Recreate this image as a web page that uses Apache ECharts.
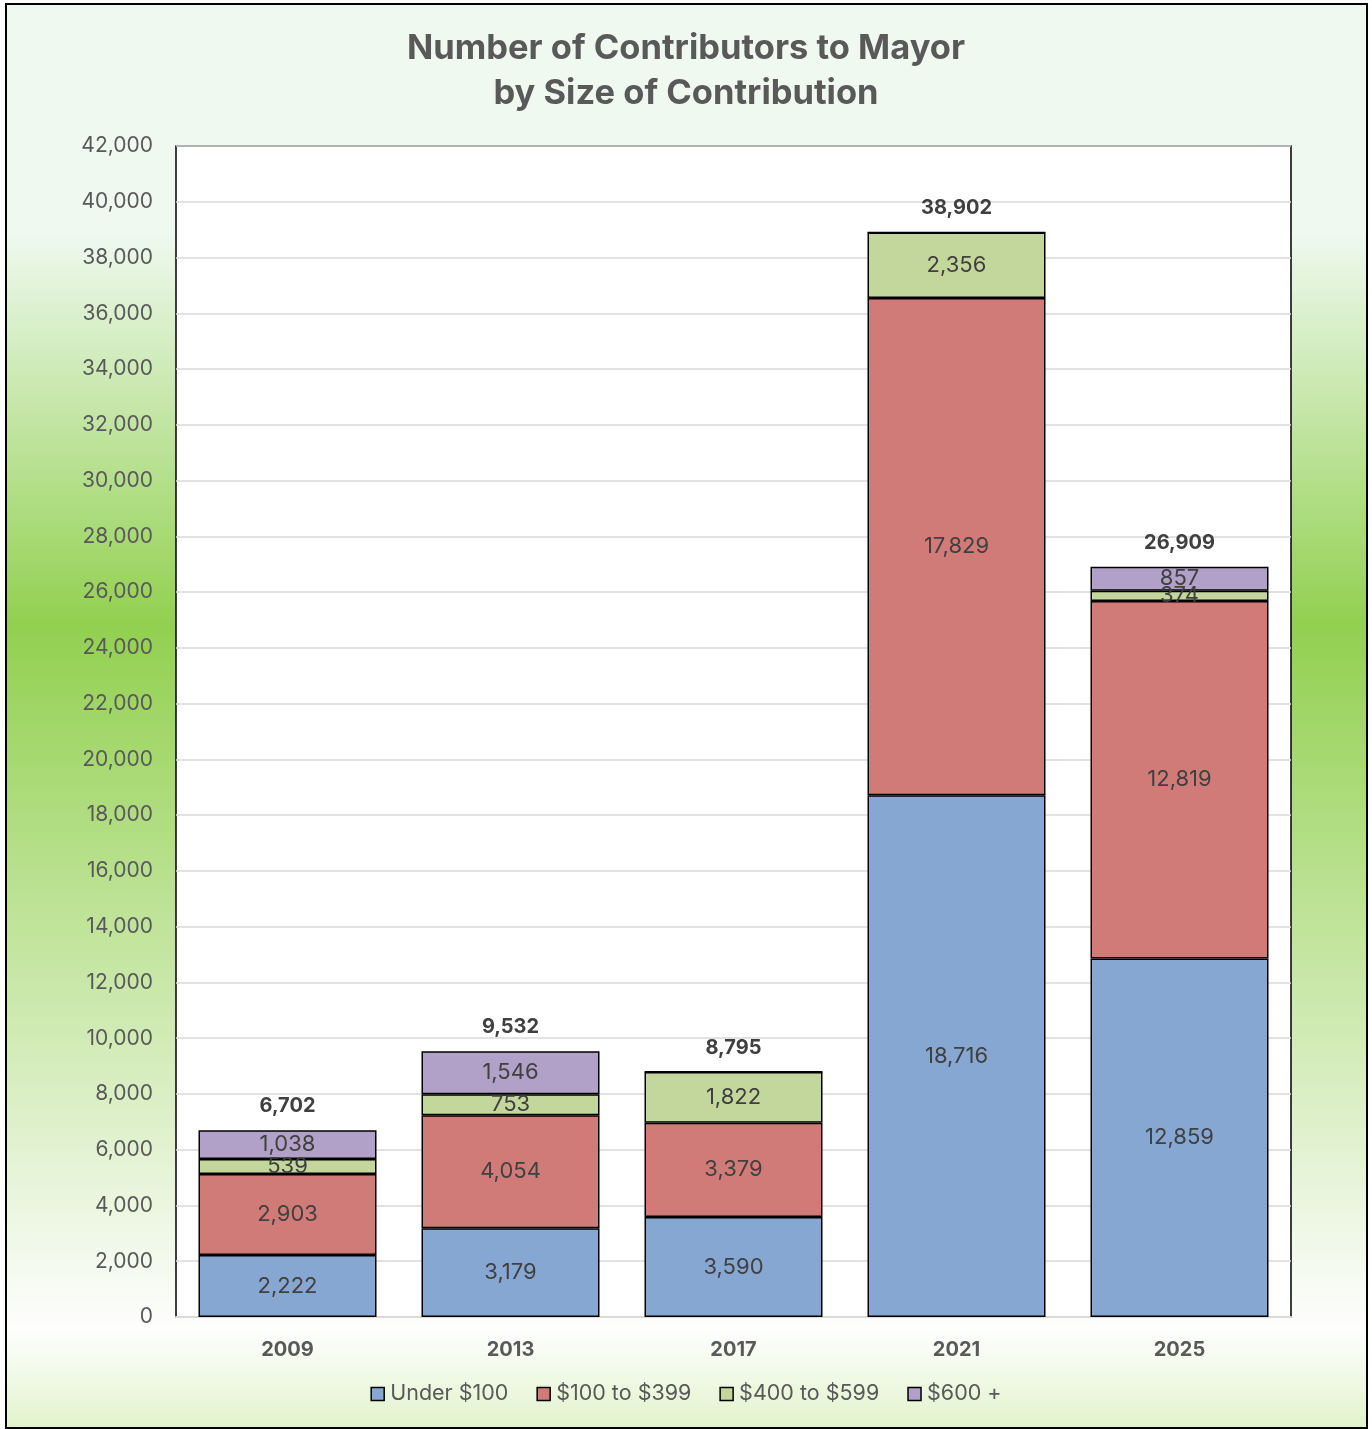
<!DOCTYPE html>
<html>
<head>
<meta charset="utf-8">
<script src="https://cdn.jsdelivr.net/npm/echarts@6/dist/echarts.min.js"></script>
<style>
html,body{margin:0;padding:0;background:#fff;}
#chart{width:1372px;height:1429px;}
</style>
</head>
<body>
<div id="chart"></div>
<script>
const categories = ['2009', '2013', '2017', '2021', '2025'];
const under100 = [2222, 3179, 3590, 18716, 12859];
const from100to399 = [2903, 4054, 3379, 17829, 12819];
const from400to599 = [539, 753, 1822, 2356, 374];
const over600 = [1038, 1546, 4, 1, 857];
const totals = [6702, 9532, 8795, 38902, 26909];
const yTicks = {min: 0, max: 42000, interval: 2000};

const FONT = 'Inter';
const fmt = v => Number(v).toLocaleString('en-US');

const chart = echarts.init(document.getElementById('chart'));

function seg(name, data, color) {
  return {
    name: name,
    type: 'bar',
    stack: 'total',
    barWidth: 178,
    data: data,
    itemStyle: {color: color, borderColor: '#000', borderWidth: 1.5},
    label: {
      show: true,
      position: 'inside',
      fontFamily: FONT,
      fontSize: 22,
      color: '#404040',
      formatter: p => (p.value >= 100 ? fmt(p.value) : '')
    },
    emphasis: {disabled: true}
  };
}

chart.setOption({
  backgroundColor: '#ffffff',
  animation: false,
  graphic: [{
    type: 'rect',
    z: -100,
    shape: {x: 6, y: 4, width: 1361, height: 1424},
    style: {
      fill: new echarts.graphic.LinearGradient(0, 0, 0, 1, [
        {offset: 0, color: '#eff9f0'},
        {offset: 0.16, color: '#eff9f0'},
        {offset: 0.436, color: '#92d050'},
        {offset: 0.93, color: '#fefefe'},
        {offset: 1, color: '#e1f3cb'}
      ]),
      stroke: '#000',
      lineWidth: 2
    },
    silent: true
  }],
  title: {
    text: 'Number of Contributors to Mayor\nby Size of Contribution',
    left: 'center',
    top: 21,
    textStyle: {
      fontFamily: FONT,
      fontSize: 34.5,
      fontWeight: 'bold',
      color: '#595959',
      lineHeight: 45
    }
  },
  legend: {
    data: ['Under $100', '$100 to $399', '$400 to $599', '$600 +'],
    left: 'center',
    top: 1378,
    icon: 'rect',
    itemWidth: 13,
    itemHeight: 13,
    itemGap: 28,
    itemStyle: {borderColor: '#000', borderWidth: 1.5},
    textStyle: {fontFamily: FONT, fontSize: 21.5, color: '#595959', padding: [0, 0, 0, 1]},
    selectedMode: false
  },
  grid: {
    left: 176,
    top: 146,
    right: 81,
    bottom: 112,
    show: true,
    backgroundColor: '#ffffff',
    borderColor: '#000',
    borderWidth: 1.5,
    containLabel: false
  },
  xAxis: {
    type: 'category',
    data: categories,
    axisLine: {show: true, lineStyle: {color: '#d9d9d9', width: 2}},
    axisTick: {show: false},
    axisLabel: {fontFamily: FONT, fontSize: 20, fontWeight: 'bold', color: '#595959', margin: 23}
  },
  yAxis: {
    type: 'value',
    min: yTicks.min,
    max: yTicks.max,
    interval: yTicks.interval,
    axisLine: {show: false},
    axisTick: {show: false},
    splitLine: {lineStyle: {color: '#d9d9d9', width: 1.5}},
    axisLabel: {fontFamily: FONT, fontSize: 21, color: '#595959', margin: 23, formatter: v => fmt(v)}
  },
  series: [
    seg('Under $100', under100, '#87a7d3'),
    seg('$100 to $399', from100to399, '#d17b79'),
    seg('$400 to $599', from400to599, '#c3d69b'),
    seg('$600 +', over600, '#b1a0c7'),
    {
      name: 'Total',
      type: 'bar',
      stack: 'total',
      barWidth: 178,
      data: totals.map(() => 0),
      itemStyle: {color: 'rgba(0,0,0,0)', borderWidth: 0},
      label: {
        show: true,
        position: 'top',
        distance: 14,
        fontFamily: FONT,
        fontSize: 20,
        fontWeight: 'bold',
        color: '#404040',
        formatter: p => fmt(totals[p.dataIndex])
      },
      emphasis: {disabled: true},
      silent: true
    }
  ]
});
</script>
</body>
</html>
